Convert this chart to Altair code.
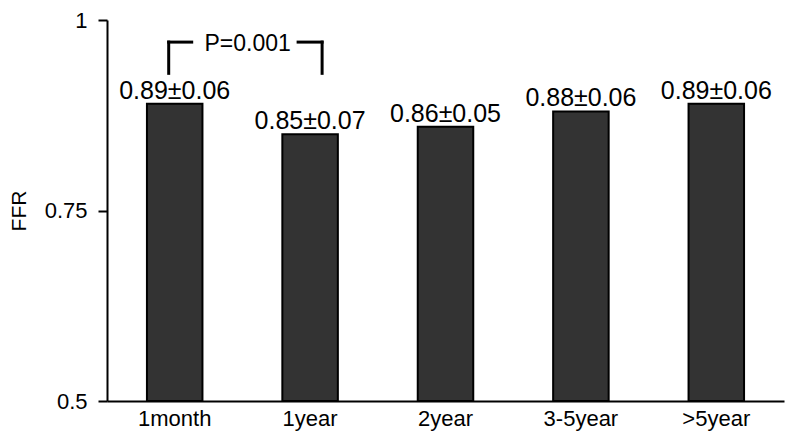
import altair as alt
import pandas as pd

categories = ["1month", "1year", "2year", "3-5year", ">5year"]
ffr_mean = [0.89, 0.85, 0.86, 0.88, 0.89]
ffr_label = ["0.89±0.06", "0.85±0.07", "0.86±0.05", "0.88±0.06", "0.89±0.06"]
y_floor = [0.5, 0.5, 0.5, 0.5, 0.5]
y_ticks = [0.5, 0.75, 1.0]

bracket_left = ["1month"]
bracket_right = ["1year"]
bracket_top = [0.971]
bracket_bottom = [0.930]
bracket_text = ["P=0.001"]

df = pd.DataFrame({"period": categories, "ffr": ffr_mean, "label": ffr_label, "base": y_floor})
br = pd.DataFrame({"left": bracket_left, "right": bracket_right,
                   "ytop": bracket_top, "ybot": bracket_bottom, "txt": bracket_text})

FONT = "Liberation Sans"
xscale = alt.Scale(domain=categories, paddingInner=0.59, paddingOuter=0.295)
yscale = alt.Scale(domain=[0.5, 1.0], nice=False, zero=False)

xaxis = alt.Axis(title=None, labelAngle=0, ticks=False, tickSize=0,
                 labelPadding=7, labelFontSize=22, labelFont=FONT,
                 labelColor="#000000", domainColor="#000000", domainWidth=2)
yaxis = alt.Axis(title="FFR", values=y_ticks, labelExpr="'' + datum.value",
                 grid=False, tickSize=9, tickWidth=2, tickColor="#000000",
                 domainColor="#000000", domainWidth=2,
                 labelFontSize=22, labelFont=FONT, labelColor="#000000",
                 labelPadding=11, titleFontSize=21, titleFont=FONT,
                 titleFontWeight="normal", titleColor="#000000",
                 titleX=-88, titleBaseline="middle")


def X(field):
    return alt.X(field, scale=xscale, sort=categories, axis=xaxis)


def Y(field):
    return alt.Y(field, scale=yscale, axis=yaxis)


bars = alt.Chart(df).mark_bar(color="#333333", stroke="#000000", strokeWidth=2).encode(
    x=X("period:N"), y=Y("ffr:Q"), y2="base:Q",
)

labels = alt.Chart(df).mark_text(font=FONT, fontSize=25, baseline="alphabetic",
                                  dy=-5, color="#000000").encode(
    x=X("period:N"), y=Y("ffr:Q"), text="label:N",
)

rule_kw = dict(color="#000000", strokeWidth=3, strokeCap="square")

left_v = alt.Chart(br).mark_rule(xOffset=-6, **rule_kw).encode(
    x=X("left:N"), y=Y("ytop:Q"), y2="ybot:Q")
left_h = alt.Chart(br).mark_rule(xOffset=-6, x2Offset=17, **rule_kw).encode(
    x=X("left:N"), x2="left:N", y=Y("ytop:Q"))
right_h = alt.Chart(br).mark_rule(xOffset=-12, x2Offset=12, **rule_kw).encode(
    x=X("right:N"), x2="right:N", y=Y("ytop:Q"))
right_v = alt.Chart(br).mark_rule(xOffset=12, **rule_kw).encode(
    x=X("right:N"), y=Y("ytop:Q"), y2="ybot:Q")
ptext = alt.Chart(br).mark_text(font=FONT, fontSize=23, baseline="middle",
                                 dx=73, dy=2, color="#000000").encode(
    x=X("left:N"), y=Y("ytop:Q"), text="txt:N")

chart = alt.layer(bars, labels, left_v, left_h, right_h, right_v, ptext).properties(
    width=677, height=381,
    autosize=alt.AutoSizeParams(type="none"),
    padding={"left": 99, "top": 12, "right": 8, "bottom": 40},
    background="#ffffff",
).configure_view(stroke=None)

chart.save("out.html", embed_options={"renderer": "svg", "actions": False})
